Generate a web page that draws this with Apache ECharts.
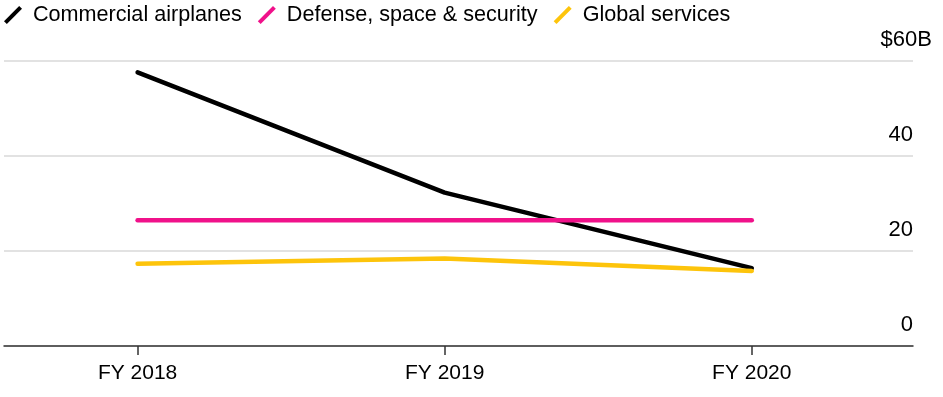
<!DOCTYPE html>
<html>
<head>
<meta charset="utf-8">
<script src="https://cdn.jsdelivr.net/npm/echarts@6/dist/echarts.min.js"></script>
<style>
  html, body { margin: 0; padding: 0; background: #fff; }
  #chart { width: 943px; height: 397px; }
</style>
</head>
<body>
<div id="chart"></div>
<script>
// data ($ billions)
var years = ['FY 2018', 'FY 2019', 'FY 2020'];
var commercial = [57.6, 32.3, 16.4];
var defense = [26.5, 26.5, 26.5];
var services = [17.3, 18.4, 15.8];
var yTicks = [0, 20, 40, 60];

var FONT = "'Liberation Sans', Arial, sans-serif";
var slash = 'path://M0.6,15.6 L15.6,0.6 L18.4,3.4 L3.4,18.4 Z';

function pts(arr) {
    return arr.map(function (v, i) { return [i, v]; });
}

function lineSeries(name, arr, color) {
    return {
        name: name,
        type: 'line',
        data: pts(arr),
        symbol: 'none',
        lineStyle: { color: color, width: 4.5, cap: 'round', join: 'round' },
        itemStyle: { color: color },
        emphasis: { disabled: true }
    };
}

var chart = echarts.init(document.getElementById('chart'));

var option = {
    animation: false,
    backgroundColor: '#fff',
    legend: {
        left: 4,
        top: 4,
        padding: 0,
        itemWidth: 18,
        itemHeight: 18,
        itemGap: 16,
        icon: slash,
        textStyle: { fontFamily: FONT, fontSize: 21.6, color: '#000', padding: [0, 0, 0, 6] },
        data: ['Commercial airplanes', 'Defense, space & security', 'Global services']
    },
    grid: { left: 4, right: 30, top: 61, bottom: 51 },
    xAxis: {
        type: 'value',
        min: -0.435,
        max: 2.525,
        axisLine: { show: true, onZero: false, lineStyle: { color: '#333', width: 1.5 } },
        axisTick: { show: true, length: 9, customValues: [0, 1, 2], lineStyle: { color: '#333', width: 1.5 } },
        axisLabel: {
            customValues: [0, 1, 2],
            formatter: function (v) { return years[Math.round(v)]; },
            fontFamily: FONT, fontSize: 21, color: '#000', margin: 17
        },
        splitLine: { show: false }
    },
    yAxis: {
        type: 'value',
        position: 'right',
        min: yTicks[0],
        max: yTicks[yTicks.length - 1],
        interval: 20,
        axisLine: { show: false },
        axisTick: { show: false },
        splitLine: { show: true, lineStyle: { color: '#e2e2e2', width: 2 } },
        axisLabel: {
            inside: true,
            margin: -19,
            verticalAlign: 'bottom',
            padding: [0, 0, 10, 0],
            fontFamily: FONT, fontSize: 22, color: '#000',
            formatter: function (v) {
                return v === 60 ? '$60B' : '{n|' + v + '}';
            },
            rich: {
                n: { fontFamily: FONT, fontSize: 22, color: '#000', padding: [0, 19, 0, 0] }
            }
        }
    },
    series: [
        lineSeries('Commercial airplanes', commercial, '#000000'),
        lineSeries('Defense, space & security', defense, '#f0118a'),
        lineSeries('Global services', services, '#fdc40b')
    ]
};

chart.setOption(option);
</script>
</body>
</html>
